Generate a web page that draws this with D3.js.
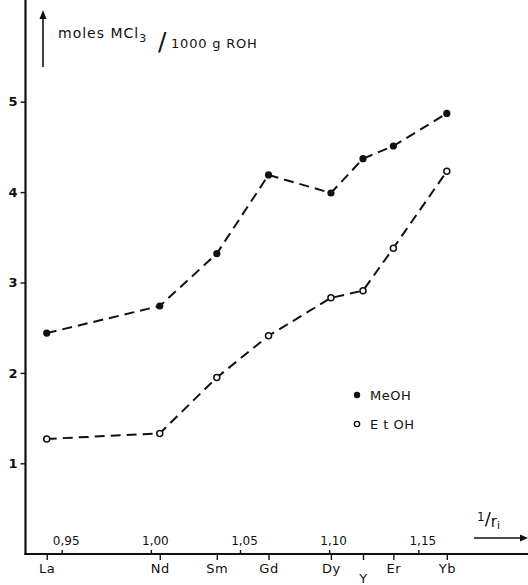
<!DOCTYPE html>
<html>
<head>
<meta charset="utf-8">
<script src="https://cdn.jsdelivr.net/npm/d3@7"></script>
<style>
  body { margin: 0; background: #fff; }
  svg { display: block; }
  text { font-family: "DejaVu Sans", sans-serif; fill: #111; }
  .axis path, .axis line { stroke: #111; }
</style>
</head>
<body>
<svg width="528" height="585"></svg>
<script>
// elements on the 1/r axis
const elements = ["La", "Nd", "Sm", "Gd", "Dy", "Y", "Er", "Yb"];
const invRadius = [0.9416, 1.005, 1.037, 1.066, 1.101, 1.119, 1.136, 1.166];
// solubility, moles MCl3 / 1000 g ROH
const meoh = [2.44, 2.74, 3.32, 4.19, 3.99, 4.37, 4.51, 4.87];
const etoh = [1.27, 1.33, 1.95, 2.41, 2.83, 2.91, 3.38, 4.23];
const xTicks = [0.95, 1.00, 1.05, 1.10, 1.15];
const yTicks = [1, 2, 3, 4, 5];

const svg = d3.select("svg");
const x = d3.scaleLinear().domain([0.95, 1.15]).range([61.7, 418.3]);
const y = d3.scaleLinear().domain([0, 5]).range([553.7, 101.7]);
const x0 = 25.5, y0 = 554;

// y axis (drawn as a thin filled bar)
svg.append("rect").attr("x", x0 - 1.1).attr("y", 0).attr("width", 2.2).attr("height", y0 + 1)
  .attr("fill", "#111");
const ya = svg.append("g").attr("class", "axis").attr("transform", `translate(${x0},0)`)
  .call(d3.axisLeft(y).tickValues(yTicks).tickSize(5).tickFormat(d3.format("d")));
ya.select(".domain").remove();
ya.selectAll("line").attr("stroke-width", 1.4);
ya.selectAll("text").attr("font-size", 13).attr("x", -8).attr("font-weight", "bold");

// x axis line
svg.append("rect").attr("x", x0 - 1.1).attr("y", y0 - 1).attr("width", 528).attr("height", 2)
  .attr("fill", "#111");

// numeric 1/r ticks above the axis
const xa = svg.append("g").attr("class", "axis").attr("transform", `translate(0,${y0})`)
  .call(d3.axisTop(x).tickValues(xTicks).tickSize(4).tickFormat(d => d3.format(".2f")(d).replace(".", ",")));
xa.select(".domain").remove();
xa.selectAll("line").attr("stroke-width", 1.4);
xa.selectAll("text").attr("font-size", 12).attr("y", -9).attr("dx", 4);

// element ticks below the axis
const ea = svg.append("g").attr("class", "axis").attr("transform", `translate(0,${y0})`)
  .call(d3.axisBottom(x).tickValues(invRadius).tickSize(6).tickFormat((d, i) => elements[i]));
ea.select(".domain").remove();
ea.selectAll("line").attr("stroke-width", 1.4);
ea.selectAll("text").attr("font-size", 13).attr("letter-spacing", 0.5)
  .attr("y", (d, i) => elements[i] === "Y" ? 20 : 10)
  .attr("dy", "0.71em");

// dashed lines
const line = d3.line().x((d, i) => x(invRadius[i])).y(d => y(d));
[meoh, etoh].forEach(s => {
  svg.append("path").datum(s).attr("d", line).attr("fill", "none")
    .attr("stroke", "#111").attr("stroke-width", 2).attr("stroke-dasharray", "10,6");
});

// markers
svg.append("g").selectAll("circle").data(meoh).join("circle")
  .attr("cx", (d, i) => x(invRadius[i])).attr("cy", d => y(d)).attr("r", 3.6).attr("fill", "#111");
svg.append("g").selectAll("circle").data(etoh).join("circle")
  .attr("cx", (d, i) => x(invRadius[i])).attr("cy", d => y(d)).attr("r", 3)
  .attr("fill", "#fff").attr("stroke", "#111").attr("stroke-width", 1.5);

// y label with arrow
svg.append("line").attr("x1", 43).attr("x2", 43).attr("y1", 67).attr("y2", 16)
  .attr("stroke", "#111").attr("stroke-width", 1.6);
svg.append("path").attr("d", "M43,10 L39.5,19 L46.5,19 Z").attr("fill", "#111");
const lab = svg.append("text").attr("x", 58).attr("y", 38).attr("font-size", 14).attr("letter-spacing", 1);
lab.append("tspan").text("moles MCl");
lab.append("tspan").attr("font-size", 11).attr("dy", 4).text("3");
svg.append("text").attr("x", 158).attr("y", 50).attr("font-size", 25).text("/");
svg.append("text").attr("x", 171).attr("y", 48).attr("font-size", 13).attr("letter-spacing", 0.8).text("1000 g ROH");

// x label with arrow
svg.append("line").attr("x1", 474).attr("x2", 524).attr("y1", 538).attr("y2", 538)
  .attr("stroke", "#111").attr("stroke-width", 1.6);
svg.append("path").attr("d", "M528,538 L520,534.5 L520,541.5 Z").attr("fill", "#111");
const rl = svg.append("text").attr("x", 477).attr("y", 527);
rl.append("tspan").attr("font-size", 12).attr("dy", -6).text("1");
rl.append("tspan").attr("font-size", 18).attr("dy", 4).text("/");
rl.append("tspan").attr("font-size", 15).attr("dy", 2).text("r");
rl.append("tspan").attr("font-size", 11).attr("dy", 2).text("i");

// legend
const legend = [["MeOH", true], ["E t OH", false]];
legend.forEach((l, i) => {
  const g = svg.append("g").attr("transform", `translate(357,${395 + i * 29})`);
  g.append("circle").attr("r", l[1] ? 3.2 : 2.6).attr("fill", l[1] ? "#111" : "#fff")
    .attr("stroke", "#111").attr("stroke-width", l[1] ? 0 : 1.4);
  g.append("text").attr("x", 13).attr("y", 5).attr("font-size", 13).attr("letter-spacing", 0.5).text(l[0]);
});
</script>
</body>
</html>
